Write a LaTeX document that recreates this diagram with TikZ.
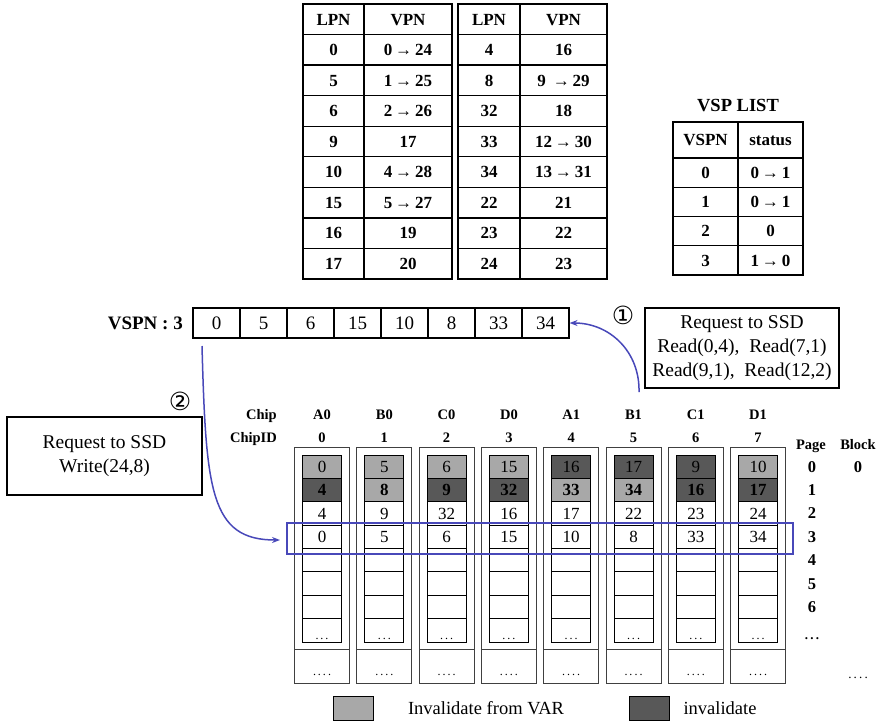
\documentclass[tikz,border=0pt]{standalone}
\usepackage{fontspec}
\setmainfont{Liberation Serif}
\newfontfamily\symf{DejaVu Sans}
\usetikzlibrary{arrows.meta}
\definecolor{lg}{RGB}{168,168,168}
\definecolor{dg}{RGB}{88,88,88}
\definecolor{bl}{RGB}{72,72,185}
\begin{document}
\begin{tikzpicture}[x=1pt,y=-1pt,
  tbl/.style={line width=1.3pt},
  ttxt/.style={font=\fontsize{17}{19}\selectfont\bfseries, inner sep=0pt, text height=11.4pt, text depth=0pt},
  acell/.style={draw, line width=1.1pt, minimum width=47pt, minimum height=30pt, inner sep=0pt,
    font=\fontsize{19}{21}\selectfont, text height=12.8pt, text depth=0pt},
  obox/.style={draw=black!75, line width=0.8pt},
  gcell/.style={draw, line width=0.8pt, minimum width=39pt, minimum height=23.375pt, inner sep=0pt,
    font=\fontsize{17}{19}\selectfont, text height=11.4pt, text depth=0pt},
  glab/.style={font=\fontsize{14.5}{16}\selectfont\bfseries, inner sep=0pt, text height=9.8pt, text depth=0pt},
  plab/.style={font=\fontsize{16.5}{18}\selectfont\bfseries, inner sep=0pt, text height=11.1pt, text depth=0pt},
  reqbox/.style={draw, line width=1.2pt, align=center, inner sep=0pt,
    font=\fontsize{19.5}{24}\selectfont},
  barrow/.style={draw=bl, line width=1.5pt, -{Stealth[length=8pt,width=6pt]}},
  circ/.style={font=\symf\fontsize{25}{26}\selectfont, inner sep=0pt},
  legbox/.style={draw, line width=1pt, minimum width=40pt, minimum height=24pt, inner sep=0pt},
  legtxt/.style={font=\fontsize{18.5}{21}\selectfont, inner sep=0pt, anchor=base}
]
\useasboundingbox (0,0) rectangle (884,724);

% ---------- LPN/VPN table 1 ----------
\draw[tbl] (303,4) rectangle (452,279);
\draw[tbl] (364,4) -- (364,279);
\foreach \k in {1,...,8} \draw[tbl] (303,{4+30.55*\k}) -- (452,{4+30.55*\k});
\node[ttxt] (h1a) at (333.5,19.3) {LPN};
\node[ttxt] (h1b) at (408,19.3) {VPN};
\foreach \k/\a/\b in {1/0/{0\,→\,24},2/5/{1\,→\,25},3/6/{2\,→\,26},4/9/{17},5/10/{4\,→\,28},6/15/{5\,→\,27},7/16/{19},8/17/{20}}{
  \node[ttxt] (t1a\k) at (333.5,{4+30.55*(\k+0.5)}) {\a};
  \node[ttxt] (t1b\k) at (408,{4+30.55*(\k+0.5)}) {\b};
}

% ---------- LPN/VPN table 2 ----------
\draw[tbl] (458,4) rectangle (607,279);
\draw[tbl] (520,4) -- (520,279);
\foreach \k in {1,...,8} \draw[tbl] (458,{4+30.55*\k}) -- (607,{4+30.55*\k});
\node[ttxt] (h2a) at (489,19.3) {LPN};
\node[ttxt] (h2b) at (563.5,19.3) {VPN};
\foreach \k/\a/\b in {1/4/{16},2/8/{9\ \,→\,29},3/32/{18},4/33/{12\,→\,30},5/34/{13\,→\,31},6/22/{21},7/23/{22},8/24/{23}}{
  \node[ttxt] (t2a\k) at (489,{4+30.55*(\k+0.5)}) {\a};
  \node[ttxt] (t2b\k) at (563.5,{4+30.55*(\k+0.5)}) {\b};
}

% ---------- VSP LIST ----------
\node[font=\fontsize{18.5}{20}\selectfont\bfseries, inner sep=0pt] (vsptitle) at (738,106) {VSP LIST};
\draw[tbl] (673,122) rectangle (803,275);
\draw[tbl] (738,122) -- (738,275);
\foreach \yy in {158,187.25,216.5,245.75} \draw[tbl] (673,\yy) -- (803,\yy);
\node[ttxt] (vh1) at (705.5,140) {VSPN};
\node[ttxt] (vh2) at (770.5,140) {status};
\foreach \k/\a/\b in {0/0/{0\,→\,1},1/1/{0\,→\,1},2/2/{0},3/3/{1\,→\,0}}{
  \node[ttxt] (va\k) at (705.5,{158+29.25*(\k+0.5)}) {\a};
  \node[ttxt] (vb\k) at (770.5,{158+29.25*(\k+0.5)}) {\b};
}

% ---------- VSPN array ----------
\node[font=\fontsize{19}{21}\selectfont\bfseries, inner sep=0pt, anchor=east, text height=12.8pt, text depth=0pt] (vlab) at (183,323) {VSPN : 3};
\foreach \j/\v in {1/0,2/5,3/6,4/15,5/10,6/8,7/33,8/34}
  \node[acell] (arr\j) at ({193+47*(\j-0.5)},323) {\v};

% ---------- request boxes ----------
\node[reqbox, minimum width=194pt, minimum height=80pt] (req1) at (742,348)
  {Request to SSD\\Read(0,4),\ \ Read(7,1)\\Read(9,1),\ \ Read(12,2)};
\node[circ] (n1) at (623,315) {①};
\node[reqbox, minimum width=195pt, minimum height=78pt] (req2) at (104.5,456)
  {Request to SSD\\Write(24,8)};
\node[circ] (n2) at (180,401) {②};

% ---------- page / block labels ----------
\node[glab] (pagelab) at (811,445) {Page};
\node[glab] (blocklab) at (858,445) {Block};
\node[plab] (blk0) at (858,466.7) {0};
\foreach \r in {0,...,6} \node[plab] (p\r) at (812,{455+23.375*(\r+0.5)}) {\r};
\node[font=\fontsize{13}{13}\selectfont\bfseries, inner sep=0pt, anchor=base] (pdots) at (812,639) {.\,.\,.};
\node[font=\fontsize{13}{13}\selectfont, inner sep=0pt, anchor=base] (bdots) at (858,678) {.\,.\,.\,.};

% ---------- chip grid ----------
\node[glab, anchor=east] (chiplab) at (277,415) {Chip};
\node[glab, anchor=east] (chipidlab) at (277,438) {ChipID};
\foreach \i/\lab/\va/\ca/\vb/\cb/\vc/\vd in {
  0/A0/0/lg/4/dg/4/0,
  1/B0/5/lg/8/lg/9/5,
  2/C0/6/lg/9/dg/32/6,
  3/D0/15/lg/32/dg/16/15,
  4/A1/16/dg/33/lg/17/10,
  5/B1/17/dg/34/lg/22/8,
  6/C1/9/dg/16/dg/23/33,
  7/D1/10/lg/17/dg/24/34}{
  \pgfmathsetmacro\cx{322+62.3*\i}
  \node[glab] (chip\i) at (\cx,415) {\lab};
  \node[glab] (id\i) at (\cx,438) {\i};
  \draw[obox] ({\cx-27.5},447) rectangle ({\cx+27.5},683);
  \draw[obox] ({\cx-27.5},649) -- ({\cx+27.5},649);
  \node[gcell, fill=\ca] (c\i-0) at (\cx,{455+23.375*0.5}) {\va};
  \node[gcell, fill=\cb, font=\fontsize{17}{19}\selectfont\bfseries] (c\i-1) at (\cx,{455+23.375*1.5}) {\vb};
  \node[gcell] (c\i-2) at (\cx,{455+23.375*2.5}) {\vc};
  \node[gcell] (c\i-3) at (\cx,{455+23.375*3.5}) {\vd};
  \foreach \r in {4,...,7} \node[gcell] (c\i-\r) at (\cx,{455+23.375*(\r+0.5)}) {};
  \node[font=\fontsize{12}{12}\selectfont, inner sep=0pt, anchor=base] (dd\i) at (\cx,639) {.\,.\,.};
  \node[font=\fontsize{12}{12}\selectfont, inner sep=0pt, anchor=base] (ddd\i) at (\cx,675) {.\,.\,.\,.};
}

% blue frame
\node[draw=bl, line width=1.4pt, minimum width=506pt, minimum height=31pt, inner sep=0pt] (blue) at (540,538.5) {};

% ---------- arrows ----------
\coordinate (a1) at (639,392);
\draw[barrow] (a1) .. controls (640,352) and (610,323) .. (arr8.east);
\coordinate (a2) at (202,346);
\coordinate (a2e) at (280,540);
\draw[barrow] (a2) .. controls (206,490) and (210,540) .. (a2e);

% ---------- legend ----------
\node[legbox, fill=lg] (leg1) at (353,708) {};
\node[legtxt] (leg1t) at (486,714) {Invalidate from VAR};
\node[legbox, fill=dg] (leg2) at (649,708) {};
\node[legtxt] (leg2t) at (720,714) {invalidate};
\end{tikzpicture}
\end{document}
